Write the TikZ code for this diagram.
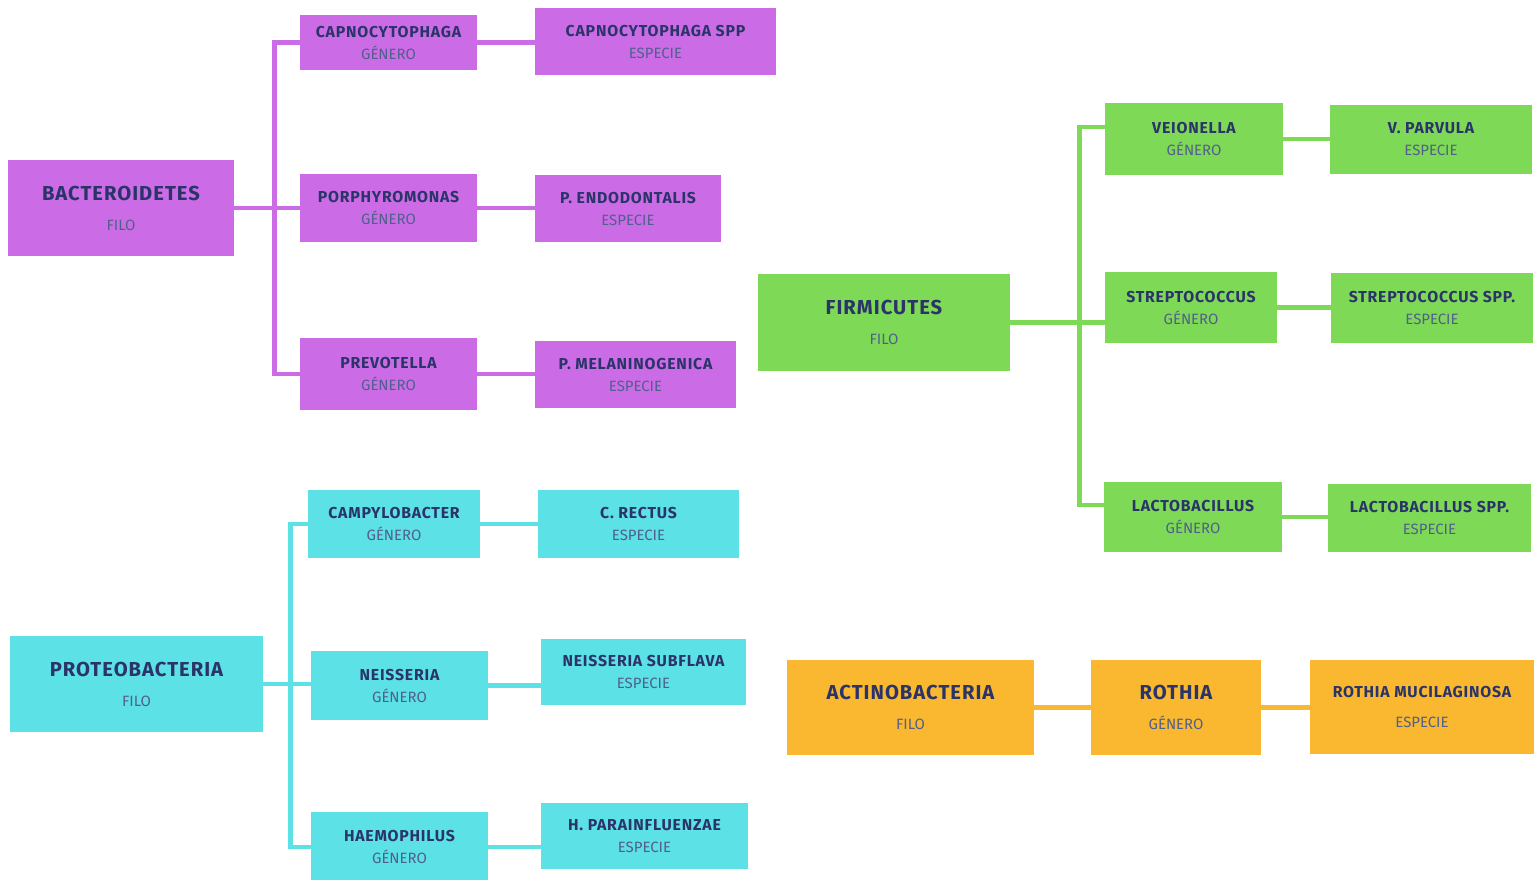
\documentclass[tikz,border=0pt]{standalone}
\usepackage{fontspec}
\setmainfont{Fira Sans}
\newfontfamily\espaciada[LetterSpace=5]{Fira Sans}
\usepackage{xcolor}
\definecolor{mora}{RGB}{203,108,230}
\definecolor{verde}{RGB}{126,217,87}
\definecolor{celeste}{RGB}{92,225,230}
\definecolor{naranja}{RGB}{250,184,48}
\definecolor{tinta}{RGB}{42,52,105}
\definecolor{tintaclara}{RGB}{80,95,140}

\newcommand{\titfilo}[1]{{\espaciada\bfseries\fontsize{11.5}{17}\selectfont #1}}
\newcommand{\titrango}[1]{{\espaciada\bfseries\fontsize{9}{12.5}\selectfont #1}}
\newcommand{\sub}[1]{{\color{tintaclara}#1}}

\begin{document}
\begin{tikzpicture}[x=0.02cm, y=-0.02cm,
	caja/.style={fill=#1, inner sep=0pt, align=center, text=tinta},
	filo/.style={font=\fontsize{8.5}{17}\selectfont},
	rango/.style={font=\fontsize{8.5}{12.5}\selectfont},
	linea/.style={draw=#1, line width=2.6pt}]
	\useasboundingbox (0,0) rectangle (1538,879);
	
	% Bacteroidetes
	\node[caja=mora, filo, minimum width=4.52cm, minimum height=1.92cm] (bact) at (121,208) {\titfilo{BACTEROIDETES}\\\sub{FILO}};
	\node[caja=mora, rango, minimum width=3.54cm, minimum height=1.10cm] (capno) at (388.5,42.5) {\titrango{CAPNOCYTOPHAGA}\\\sub{GÉNERO}};
	\node[caja=mora, rango, minimum width=4.82cm, minimum height=1.34cm] (capnospp) at (655.5,41.5) {\titrango{CAPNOCYTOPHAGA SPP}\\\sub{ESPECIE}};
	\node[caja=mora, rango, minimum width=3.54cm, minimum height=1.36cm] (porph) at (388.5,208) {\titrango{PORPHYROMONAS}\\\sub{GÉNERO}};
	\node[caja=mora, rango, minimum width=3.72cm, minimum height=1.34cm] (endo) at (628,208.5) {\titrango{P. ENDODONTALIS}\\\sub{ESPECIE}};
	\node[caja=mora, rango, minimum width=3.54cm, minimum height=1.44cm] (prevo) at (388.5,374) {\titrango{PREVOTELLA}\\\sub{GÉNERO}};
	\node[caja=mora, rango, minimum width=4.02cm, minimum height=1.34cm] (melan) at (635.5,374.5) {\titrango{P. MELANINOGENICA}\\\sub{ESPECIE}};
	
	\draw[linea=mora] (bact.east) -- ++(40,0) |- (capno.west);
	\draw[linea=mora] (bact.east) -- (porph.west);
	\draw[linea=mora] (bact.east) -- ++(40,0) |- (prevo.west);
	\draw[linea=mora] (capno.east) -- (capno.east -| capnospp.west);
	\draw[linea=mora] (porph.east) -- (porph.east -| endo.west);
	\draw[linea=mora] (prevo.east) -- (prevo.east -| melan.west);
	
	% Proteobacteria
	\node[caja=celeste, filo, minimum width=5.06cm, minimum height=1.92cm] (proteo) at (136.5,684) {\titfilo{PROTEOBACTERIA}\\\sub{FILO}};
	\node[caja=celeste, rango, minimum width=3.44cm, minimum height=1.36cm] (campy) at (394,524) {\titrango{CAMPYLOBACTER}\\\sub{GÉNERO}};
	\node[caja=celeste, rango, minimum width=4.02cm, minimum height=1.36cm] (rectus) at (638.5,524) {\titrango{C. RECTUS}\\\sub{ESPECIE}};
	\node[caja=celeste, rango, minimum width=3.54cm, minimum height=1.38cm] (neis) at (399.5,685.5) {\titrango{NEISSERIA}\\\sub{GÉNERO}};
	\node[caja=celeste, rango, minimum width=4.10cm, minimum height=1.32cm] (subfl) at (643.5,672) {\titrango{NEISSERIA SUBFLAVA}\\\sub{ESPECIE}};
	\node[caja=celeste, rango, minimum width=3.54cm, minimum height=1.40cm] (haemo) at (399.5,847) {\titrango{HAEMOPHILUS}\\\sub{GÉNERO}};
	\node[caja=celeste, rango, minimum width=4.14cm, minimum height=1.32cm] (parain) at (644.5,836) {\titrango{H. PARAINFLUENZAE}\\\sub{ESPECIE}};
	
	\draw[linea=celeste] (proteo.east) -- ++(27,0) |- (campy.west);
	\draw[linea=celeste] (proteo.east) -- (proteo.east -| neis.west);
	\draw[linea=celeste] (proteo.east) -- ++(27,0) |- (haemo.west);
	\draw[linea=celeste] (campy.east) -- (campy.east -| rectus.west);
	\draw[linea=celeste] (neis.east) -- (neis.east -| subfl.west);
	\draw[linea=celeste] (haemo.east) -- (haemo.east -| parain.west);
	
	% Firmicutes
	\node[caja=verde, filo, minimum width=5.04cm, minimum height=1.94cm] (firmi) at (884,322.5) {\titfilo{FIRMICUTES}\\\sub{FILO}};
	\node[caja=verde, rango, minimum width=3.56cm, minimum height=1.44cm] (veio) at (1194,139) {\titrango{VEIONELLA}\\\sub{GÉNERO}};
	\node[caja=verde, rango, minimum width=4.04cm, minimum height=1.38cm] (parvula) at (1431,139.5) {\titrango{V. PARVULA}\\\sub{ESPECIE}};
	\node[caja=verde, rango, minimum width=3.44cm, minimum height=1.42cm] (strep) at (1191,307.5) {\titrango{STREPTOCOCCUS}\\\sub{GÉNERO}};
	\node[caja=verde, rango, minimum width=4.04cm, minimum height=1.40cm] (strepspp) at (1432,308) {\titrango{STREPTOCOCCUS SPP.}\\\sub{ESPECIE}};
	\node[caja=verde, rango, minimum width=3.56cm, minimum height=1.40cm] (lacto) at (1193,517) {\titrango{LACTOBACILLUS}\\\sub{GÉNERO}};
	\node[caja=verde, rango, minimum width=4.06cm, minimum height=1.36cm] (lactospp) at (1429.5,518) {\titrango{LACTOBACILLUS SPP.}\\\sub{ESPECIE}};
	
	\draw[linea=verde] (firmi.east) -- ++(69,0) |- ([yshift=0.24cm]veio.west);
	\draw[linea=verde] (firmi.east) -- (firmi.east -| strep.west);
	\draw[linea=verde] (firmi.east) -- ++(69,0) |- ([yshift=0.24cm]lacto.west);
	\draw[linea=verde] (veio.east) -- (veio.east -| parvula.west);
	\draw[linea=verde] (strep.east) -- (strep.east -| strepspp.west);
	\draw[linea=verde] (lacto.east) -- (lacto.east -| lactospp.west);
	
	% Actinobacteria
	\node[caja=naranja, filo, minimum width=4.94cm, minimum height=1.90cm] (actino) at (910.5,707.5) {\titfilo{ACTINOBACTERIA}\\\sub{FILO}};
	\node[caja=naranja, filo, minimum width=3.40cm, minimum height=1.90cm] (rothia) at (1176,707.5) {\titfilo{ROTHIA}\\\sub{GÉNERO}};
	\node[caja=naranja, filo, minimum width=4.48cm, minimum height=1.88cm] (mucil) at (1422,707) {\titrango{ROTHIA MUCILAGINOSA}\\\sub{ESPECIE}};
	
	\draw[linea=naranja] (actino.east) -- (rothia.west);
	\draw[linea=naranja] (rothia.east) -- (rothia.east -| mucil.west);
	
\end{tikzpicture}
\end{document}
